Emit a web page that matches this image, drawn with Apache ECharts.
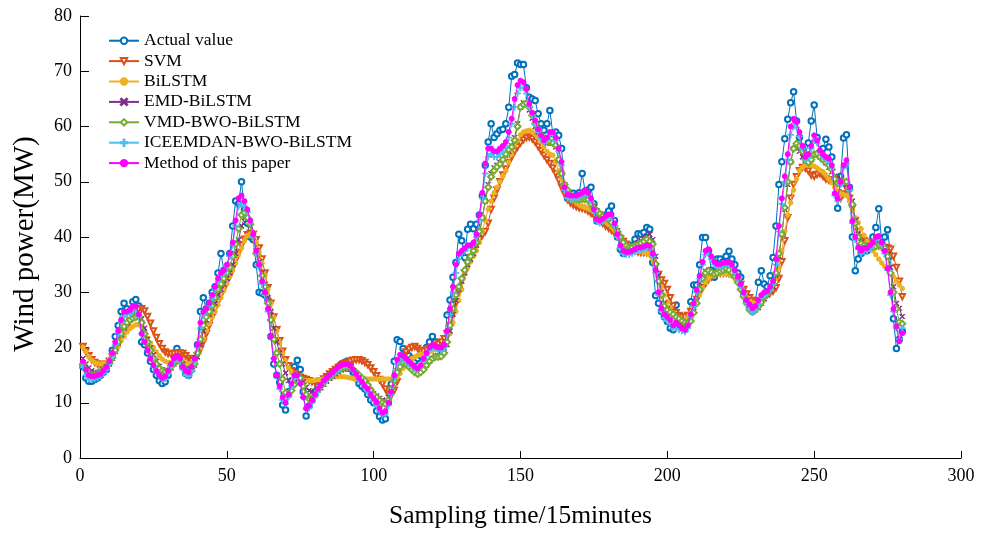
<!DOCTYPE html>
<html>
<head>
<meta charset="utf-8">
<script src="https://cdn.jsdelivr.net/npm/echarts@6/dist/echarts.min.js"></script>
<style>
html,body{margin:0;padding:0;background:#fff;}
#chart{width:989px;height:534px;}
</style>
</head>
<body>
<div id="chart"></div>
<script>
// Wind power forecasts over 280 sampling steps (15 min each), in MW
const seriesNames = ['Actual value', 'SVM', 'BiLSTM', 'EMD-BiLSTM', 'VMD-BWO-BiLSTM', 'ICEEMDAN-BWO-BiLSTM', 'Method of this paper'];
const xTicks = [0, 50, 100, 150, 200, 250, 300];
const yTicks = [0, 10, 20, 30, 40, 50, 60, 70, 80];

const actual = [
16.5, 14.5, 13.9, 13.9, 14.2, 14.5, 15, 15.5, 16, 17.5,
19.5, 22, 24, 26.5, 28, 27, 26.5, 28.3, 28.7, 27.5,
21, 20.5, 19, 17.5, 16, 15, 14, 13.5, 13.8, 15,
17, 18.8, 19.8, 18.5, 16.5, 15.3, 15, 16.5, 18, 20.5,
26.5, 29, 27, 28, 30, 31, 33.5, 37, 34, 33.5,
37, 42, 46.5, 46, 50, 45, 42.5, 40, 39.5, 35,
30, 29.8, 29.5, 28.6, 22, 17, 15, 13.7, 9.6, 8.7,
12, 14, 16.5, 17.7, 16, 12, 7.6, 9.4, 10.5, 12,
13, 13.5, 14, 14.5, 15, 15.5, 16, 16.5, 17, 17.3,
17.5, 17, 15.5, 14.5, 13.5, 13, 12.5, 11.5, 10.5, 10,
8.5, 7.5, 6.9, 7.1, 10, 13.4, 17.5, 21.4, 21.1, 19.8,
19, 18.5, 18, 17.5, 18, 18.5, 19, 20, 21, 22,
21, 20, 19.5, 20.5, 25.9, 28.6, 32.7, 35.4, 40.5, 39.3,
36.3, 41.4, 42.3, 41.5, 42.3, 44, 47.4, 53, 57.2, 60.5,
58, 58.7, 59.3, 59.5, 60.5, 63.5, 69.1, 69.4, 71.5, 71.2,
71.2, 67, 65.3, 65, 64.7, 62.3, 60.5, 59.3, 60.5, 62.9,
58.7, 59, 58.4, 56, 48.6, 47, 47.5, 47.9, 47.5, 48,
51.5, 48.3, 48.5, 49, 46, 42.9, 43, 43.5, 44, 44.7,
45.6, 43, 40, 37.8, 37, 37.5, 38, 38.5, 39.6, 40.6,
40.5, 40.8, 41.7, 41.4, 35.4, 29.4, 28, 26.5, 25.5, 24.7,
23.5, 23.2, 27.7, 25.5, 24.5, 23.5, 25.5, 28.3, 31.3, 31.3,
35, 39.9, 39.9, 37.5, 34, 32.7, 36, 36, 35.5, 36.5,
37.4, 36, 35, 33.5, 32.7, 29.8, 28.5, 27.1, 26.5, 28.5,
31.8, 33.9, 31.5, 31, 33, 36.3, 42, 49.5, 53.6, 57.8,
61.3, 64.3, 66.3, 61, 58, 56, 54.8, 57, 61, 63.9,
58, 55.1, 56, 57.7, 56.3, 54.5, 50, 45.2, 51, 57.9,
58.5, 49, 40, 33.9, 36, 37, 38, 37.5, 38.5, 40,
41.7, 45.1, 39, 40, 41.3, 36.6, 25.2, 19.8, 21.5, 22.9
];

const svm = [
20.2, 19.3, 18.5, 17.8, 17.3, 17, 16.8, 16.8, 17, 17.5,
18.3, 19.3, 20.5, 21.7, 22.8, 23.8, 24.8, 25.7, 26.4, 26.9,
27, 26.6, 25.6, 24.4, 23, 21.8, 20.7, 19.8, 19.2, 18.9,
18.8, 18.9, 19, 19, 18.9, 18.5, 18, 17.6, 17.8, 18.5,
19.7, 21, 22.5, 24, 25.5, 27, 28.3, 29.5, 30.6, 31.8,
33, 34.4, 35.8, 37.2, 38.5, 39.6, 40.4, 40.7, 40.5, 39.5,
38, 36, 33.5, 30.8, 28, 25.5, 23.2, 21.2, 19.3, 17.8,
16.7, 15.8, 15.2, 14.8, 14.6, 14.4, 14.2, 14, 13.8, 13.7,
13.8, 14, 14.3, 14.7, 15.2, 15.6, 16, 16.4, 16.7, 17,
17.2, 17.5, 17.7, 17.8, 17.8, 17.6, 17.3, 16.9, 16.3, 15.6,
14.9, 14.2, 13.4, 12.5, 11.6, 11.3, 12.2, 13.8, 16, 18,
19.2, 19.7, 20, 20.2, 19.8, 19.4, 19.3, 19.5, 19.8, 20,
20.3, 20.6, 21, 21.6, 22.5, 24, 26, 28, 30, 32,
33.5, 35, 36.3, 37.5, 38.5, 39.5, 40.3, 41, 42.5, 45,
47, 48.5, 50, 51.2, 52.3, 53.5, 54.5, 55.5, 56.3, 57,
57.6, 58, 58.1, 57.8, 57.2, 56.4, 55.6, 54.8, 54, 53.3,
52.5, 51.5, 50.3, 49, 47.8, 46.8, 46.2, 45.8, 45.5, 45.3,
45.2, 45, 44.7, 44.3, 43.9, 43.5, 43, 42.5, 42, 41.6,
41.2, 40.7, 40.2, 39.7, 39.2, 38.7, 38.2, 37.8, 37.5, 37.3,
37.2, 37.2, 37.2, 37, 36, 34.6, 33.2, 32.2, 31.6, 30.5,
29, 27.5, 26.3, 25.8, 25.5, 25.5, 25.8, 26.5, 27.5, 28.7,
29.8, 30.8, 31.6, 32.3, 32.8, 33.2, 33.4, 33.5, 33.5, 33.5,
33.4, 33.2, 32.8, 32.2, 31.4, 30.5, 29.7, 29, 28.5, 28.2,
28, 28.5, 29.2, 29.6, 29.9, 30.2, 30.8, 32.5, 35.5, 39.3,
43.5, 47, 49.5, 50.9, 52, 52.6, 52.5, 52, 51.2, 51,
51.3, 51.5, 51, 50.5, 50.3, 50.3, 49.5, 48, 47, 47.8,
48.8, 47, 45.2, 43, 41, 39.9, 39.3, 39, 39, 38.8,
38.6, 38.4, 38.2, 38.1, 38, 37.8, 36.5, 34.5, 32, 29.2
];

const bilstm = [
20, 19.2, 18.3, 17.7, 17.3, 17.1, 17, 17.1, 17.3, 17.8,
18.5, 19.3, 20.2, 21.2, 22, 22.8, 23.4, 23.8, 24.1, 24.1,
23.7, 22.8, 21.7, 20.8, 20, 19.2, 18.5, 17.9, 17.5, 17.3,
17.3, 17.5, 17.8, 17.9, 17.6, 17.2, 17, 17.2, 17.8, 18.8,
20, 21.5, 23, 24.3, 25.5, 26.5, 27.7, 29, 30.3, 31.5,
32.8, 34, 35.3, 36.8, 38, 39.3, 40.2, 40.5, 40.2, 39,
37.3, 35.3, 33, 30.5, 28, 25.5, 23, 20.8, 19, 17.5,
16.3, 15.5, 14.9, 14.5, 14.2, 14, 14, 14, 14, 14.1,
14.2, 14.2, 14.3, 14.4, 14.5, 14.6, 14.7, 14.7, 14.7, 14.7,
14.6, 14.5, 14.4, 14.3, 14.3, 14.3, 14.3, 14.3, 14.3, 14.3,
14.3, 14.3, 14.3, 14.3, 14.3, 14.3, 14.3, 14.6, 15.3, 16.2,
17, 17.6, 18, 18.3, 18.6, 18.8, 18.9, 19, 19.2, 19.5,
19.6, 19.8, 20, 20.3, 21, 22.5, 24.5, 26.5, 28.5, 30.5,
33.5, 34.5, 35.5, 36.5, 37.5, 39, 41, 43, 45, 46.5,
48, 49, 50, 51, 52, 53.5, 55, 56.5, 57.5, 58.5,
59, 59.2, 59.3, 59, 58.6, 58, 57.2, 56.3, 55.5, 55,
54.8, 53.5, 52, 50.5, 49, 48, 47.2, 46.6, 46.2, 45.8,
45.5, 45.3, 45.1, 44.9, 44.6, 44.2, 43.8, 43.3, 42.8, 42.3,
41.8, 41.2, 40.5, 39.7, 39, 38.4, 38, 37.7, 37.5, 37.4,
37.3, 37.2, 37.1, 36.8, 36, 34.5, 32.8, 31, 29.5, 28.3,
27.2, 26.3, 25.6, 25.1, 24.9, 25, 25.4, 26.2, 27.2, 28.3,
29.5, 30.8, 31.8, 32.5, 33, 33.2, 33.3, 33.4, 33.4, 33.3,
33.2, 33, 32.5, 31.8, 30.8, 29.8, 29, 28.4, 28.1, 28,
28.1, 28.4, 28.9, 29.5, 30.2, 31, 32.5, 34.5, 37.5, 41,
44, 46.2, 48.5, 50.5, 52, 52.6, 53, 53, 53, 52.8,
52.5, 52.1, 51.8, 51.2, 50.5, 49.8, 49, 48.3, 47.9, 47.7,
47.5, 46.5, 45, 43.5, 42.6, 41.5, 40.3, 39.2, 38.2, 37.5,
36.8, 36, 35.3, 34.7, 34.2, 33.5, 32.8, 32, 31.3, 30.7
];

const emdBilstm = [
18, 17, 16.3, 15.8, 15.5, 15.5, 15.7, 16, 16.5, 17,
18, 19.3, 20.8, 22.3, 23.5, 24.5, 25, 25.3, 25.5, 25.6,
25.2, 23.5, 21.5, 20, 18.7, 17.5, 16.6, 16, 15.7, 15.8,
16.3, 17, 17.5, 17.5, 17, 16.2, 15.8, 16, 16.8, 18.3,
20.5, 23, 25, 26, 27, 28, 29.5, 30.5, 31.5, 32.5,
33.5, 35, 37, 39.5, 42, 43.5, 43, 42, 40, 37.5,
35.5, 33.5, 31.5, 29, 26.5, 23.5, 21, 19, 17, 15.4,
14, 13.2, 13.5, 14.3, 14.5, 13.8, 12.8, 12.2, 12, 11.9,
12.2, 12.7, 13.3, 13.9, 14.4, 14.8, 15.2, 15.6, 15.9, 16.1,
16.1, 16, 15.7, 15.3, 14.8, 14.3, 13.7, 13, 12.3, 11.6,
11.2, 10.8, 10.5, 10.4, 11, 12.5, 14.2, 15.8, 16.8, 17.3,
17.2, 16.8, 16.3, 15.9, 15.6, 15.7, 16.2, 16.8, 17.5, 18,
18.5, 18.5, 18.6, 19.2, 20.5, 23, 26, 28.5, 30.5, 32,
33.5, 35, 36, 37, 38.5, 40.5, 43.5, 46.5, 49.5, 51.5,
52.5, 53, 53.5, 54, 54.8, 55.5, 56.5, 58, 60.5, 63.5,
64.3, 64, 63, 61.5, 60, 59, 58.2, 57.5, 57, 57,
57, 56.3, 54, 51.5, 49.5, 48.3, 47.5, 47.2, 47, 47,
47, 47.2, 47.4, 46.5, 45.5, 44.8, 44.2, 43.7, 43.4, 43.3,
43, 42.2, 41.2, 40, 39, 38.3, 38, 38.1, 38.5, 39,
39.4, 39.8, 40.2, 40.5, 39.5, 36.5, 33, 30, 28, 27,
26.2, 25.6, 25, 24.6, 24.2, 24, 24.3, 25, 26.5, 28.5,
31, 33, 33.8, 34, 33.7, 33.4, 33.6, 34, 34.4, 34.6,
34.5, 34, 33.3, 32.3, 31, 29.8, 28.5, 27.4, 26.9, 26.8,
27.2, 28, 28.8, 29.5, 30.2, 31, 33, 36.5, 40.5, 45,
49.5, 53.6, 56, 56.2, 55.5, 54.5, 53.8, 53.6, 54, 54.8,
55, 54.5, 54, 53.4, 52.6, 51.8, 51, 50.7, 50.5, 50,
49.5, 48.8, 46.5, 43, 40.5, 39, 38.5, 38.3, 38.3, 38.5,
38.8, 39, 38.8, 38.2, 37, 34.5, 31, 28, 27.1, 25.6
];

const vmdBwoBilstm = [
17, 16, 15.2, 15, 15, 15.2, 15.5, 16, 16.5, 17.2,
18.2, 19.5, 21, 22.5, 23.8, 24.5, 25, 25.3, 25.5, 25.6,
24.5, 22.5, 21, 19.5, 18, 17, 16.2, 15.8, 15.6, 15.8,
16.5, 17.2, 17.6, 17.5, 16.5, 15.6, 15.4, 15.8, 17, 19,
21.5, 24, 25.5, 26.5, 27.5, 29, 30.5, 31.5, 32.5, 33.5,
34.5, 36.5, 38.7, 41.5, 44, 44.4, 43.5, 42.3, 40, 37,
35, 33, 31, 28, 25, 21.5, 19, 17, 14.3, 11.8,
11.3, 12.2, 13.3, 15, 14.5, 13, 11.5, 10.7, 10.8, 11.3,
12.3, 13, 13.6, 14.2, 14.7, 15.1, 15.5, 15.9, 16.2, 16.4,
16.5, 16.4, 16, 15.5, 15, 14.5, 14, 13.2, 12.3, 11.5,
11, 10.4, 10, 9.8, 10.5, 12.5, 14, 15.5, 16.5, 17.2,
17, 16.5, 16, 15.5, 15.2, 15.5, 16, 16.8, 17.5, 18,
18.3, 18.3, 18.4, 19, 21, 24, 27, 29.5, 31, 32.5,
34, 35.5, 36.5, 37.5, 39, 41, 43.5, 46.5, 49, 50.9,
52, 52.7, 53.2, 54, 55, 55.8, 56.3, 57.5, 60, 63.5,
64, 64.2, 63.5, 62, 60.5, 59.5, 58.5, 57.8, 57.5, 57.2,
57, 56.6, 54, 51.5, 49.5, 48.5, 47.5, 47, 46.8, 46.8,
46.8, 46.8, 46.8, 46, 45.3, 44.7, 44.2, 43.8, 43.5, 43.2,
42.6, 42, 41, 40, 39, 38.4, 38.2, 38.2, 38.4, 38.6,
38.9, 39.2, 39.6, 39.2, 38.7, 35.1, 32, 29.5, 27.5, 26.8,
26.4, 26, 25.5, 25.2, 24.8, 24.5, 24.4, 24.8, 26.3, 28,
30.5, 32.5, 33.5, 33.9, 33.6, 33.3, 33.5, 33.8, 34, 34.2,
34, 33.5, 32.9, 31.8, 30.5, 29.2, 28, 26.8, 26.5, 26.8,
27.4, 28.2, 29.2, 29.8, 30.5, 31.5, 33.5, 37, 40.5, 45.3,
50, 53.6, 56, 56.9, 56.5, 55.5, 54, 53.5, 54, 55,
55.1, 54.5, 54, 53.5, 53, 52.2, 50.5, 49.7, 49.7, 50,
50, 48.5, 45.9, 42.5, 40, 38.8, 38.5, 38.3, 38.2, 38.2,
38.3, 38.5, 38.5, 38, 36.5, 33.5, 30, 27, 24.6, 24.3
];

const iceemdanBwoBilstm = [
16.5, 15, 14.3, 14.2, 14.3, 14.5, 14.8, 15.3, 16, 17,
18.5, 20.5, 22.5, 24.5, 25.5, 26, 26, 26.5, 26.5, 25.5,
22.5, 21, 19.5, 18, 16.5, 15.5, 14.8, 14.2, 14.3, 15.2,
16.5, 17.5, 18, 17.5, 16, 15, 14.8, 15.8, 17.5, 20,
23.5, 26, 27, 27.5, 29, 30.5, 32, 33, 33.5, 34.5,
36.5, 38.5, 42, 45.5, 46, 45.5, 44.5, 42.5, 40, 37,
34.5, 31.5, 29.5, 26.5, 22, 18, 15, 12.5, 10.5, 9.8,
11, 13, 14.5, 14.8, 13.5, 11, 8.8, 9, 10, 11,
12, 13, 13.8, 14.2, 14.7, 15.2, 15.6, 16, 16.5, 16.8,
16.8, 16.5, 15.8, 15, 14.2, 13.5, 12.8, 12, 11.2, 10.3,
9.5, 8.5, 7.8, 8, 9.5, 11.5, 14.5, 17, 18, 18,
17.5, 17, 16.5, 16.2, 16, 16.5, 17.5, 18.5, 19.5, 20,
20, 19.5, 19.5, 20, 22.5, 26, 30, 33.5, 36, 37,
37.5, 38, 38.5, 39, 40, 43, 47, 51.5, 54.5, 55,
54.5, 54.5, 55, 55.5, 56.5, 58, 60.5, 63.5, 66, 67,
67, 66, 63.5, 62, 60.5, 59, 57.8, 57, 57.5, 58.5,
58.5, 57.5, 55.5, 53, 48.5, 47, 46.8, 46.8, 47, 47.2,
47.5, 48, 47.5, 46.5, 44.5, 42.8, 42.5, 42.8, 43.3, 43.6,
43.6, 42, 40, 38, 37, 36.8, 36.8, 37, 37.3, 37.6,
37.6, 37.8, 38, 38, 36.5, 33.5, 29.5, 26.5, 25.3, 24.8,
24.3, 23.5, 23.5, 23.2, 23, 22.8, 23.5, 25.5, 27.5, 30,
32.5, 35, 36.8, 37, 36, 35, 34.6, 34.6, 34.8, 35,
35, 34.5, 33.5, 32.3, 31, 29.5, 28, 27, 26.3, 26.8,
27.8, 29, 29.5, 29.8, 30.5, 31.5, 35, 41, 46, 50,
54, 58.5, 60, 59.8, 58.2, 56, 54, 54.3, 56, 57.5,
57, 55.2, 54.5, 54, 53.7, 52.5, 47.5, 46.5, 49.5, 52.5,
53.3, 48.5, 42.5, 39.5, 37.8, 37, 37.5, 37.5, 38, 38.5,
39.5, 39.8, 38.5, 37, 34, 29.5, 26.5, 23.5, 21.5, 23.5
];

const proposedMethod = [
17.5, 16, 15, 14.8, 14.8, 15, 15.2, 15.8, 16.5, 17.5,
19, 21, 23, 25, 26.5, 26.5, 26.8, 27.5, 27.5, 26,
22.5, 21, 19.5, 18, 16.8, 15.8, 15, 14.5, 14.8, 15.8,
17, 18, 18.5, 18, 16.5, 15.8, 15.5, 16.5, 18, 20.5,
24.5, 26.5, 27, 28, 29.5, 31, 32.5, 33.5, 34, 35,
37, 39, 43, 47, 47.5, 46.5, 45, 43, 40.5, 37.5,
35, 32, 30, 27, 22, 18, 15, 13, 11, 10,
11.5, 13.5, 15, 15, 13.5, 11, 9, 9.5, 10.5, 11.5,
12.5, 13.2, 14, 14.5, 15, 15.5, 16, 16.5, 16.8, 17,
17, 16.7, 16, 15.2, 14.5, 13.8, 13, 12.5, 11.5, 10.8,
10.1, 9, 8.2, 8.5, 10, 12, 15, 17.8, 18.7, 18.5,
18, 17.5, 17, 16.5, 16.2, 16.8, 18, 19, 20, 20.5,
20.2, 20, 20, 20.5, 23, 27, 31, 35, 37, 37.5,
38, 38.5, 38.5, 39, 40.5, 44, 48, 53.3, 56, 56,
55.5, 55.5, 56, 56.5, 57.2, 59, 61.4, 65, 67.5, 68.3,
68, 66.8, 64.1, 62.5, 61.1, 59.5, 58.4, 57.5, 58, 59,
59, 58, 56, 53.6, 49, 47.7, 47.5, 47.5, 47.5, 47.7,
48, 48.5, 48, 47, 45, 43.2, 43, 43.3, 43.8, 44.1,
44.1, 42.5, 40.5, 38.5, 37.5, 37.3, 37.3, 37.5, 37.8, 38.1,
38.1, 38.3, 38.5, 38.4, 37, 34, 30, 27.1, 26, 25.5,
25, 24, 24.5, 24, 23.5, 23.2, 24, 26, 28, 30.4,
33, 35.5, 37.5, 37.8, 36.5, 35.5, 35.1, 35.1, 35.3, 35.4,
35.5, 35, 34, 32.8, 31.5, 30, 28.6, 27.8, 27.1, 27.5,
28.5, 29.5, 30, 30.2, 31, 32, 36, 42, 47, 51,
55, 60, 61.4, 60.8, 59, 56.5, 54.5, 55, 56.5, 58.4,
57.5, 55.7, 55, 54.5, 54.2, 53, 47.9, 47, 50, 53,
53.9, 49, 42.9, 40, 38.1, 37.5, 38, 38, 38.5, 39,
40, 40.2, 39, 37.5, 34.3, 30, 27, 23.8, 21.1, 22.6
];

// Marker shapes that ECharts does not ship: a cross and a plus sign
const crossSymbol = 'path://M0,1 L1,0 L5,4 L9,0 L10,1 L6,5 L10,9 L9,10 L5,6 L1,10 L0,9 L4,5 Z';
const plusSymbol = 'path://M4.3,0 L5.7,0 L5.7,4.3 L10,4.3 L10,5.7 L5.7,5.7 L5.7,10 L4.3,10 L4.3,5.7 L0,5.7 L0,4.3 L4.3,4.3 Z';

const styles = [
  { color: '#0072BD', symbol: 'emptyCircle', size: 5.5, rotate: 0 },
  { color: '#D95319', symbol: 'emptyTriangle', size: 5.5, rotate: 180 },
  { color: '#EDB120', symbol: 'circle', size: 4.5, rotate: 0 },
  { color: '#7E2F8E', symbol: crossSymbol, size: 5, rotate: 0 },
  { color: '#77AC30', symbol: 'emptyDiamond', size: 6, rotate: 0 },
  { color: '#4DBEEE', symbol: plusSymbol, size: 6, rotate: 0 },
  { color: '#FF00FF', symbol: 'circle', size: 5, rotate: 0 }
];

const values = [actual, svm, bilstm, emdBilstm, vmdBwoBilstm, iceemdanBwoBilstm, proposedMethod];

const chart = echarts.init(document.getElementById('chart'), null, { renderer: 'canvas', width: 989, height: 534 });

const serif = 'Liberation Serif, Times New Roman, serif';

chart.setOption({
  animation: false,
  backgroundColor: '#ffffff',
  grid: { left: 80, top: 16, width: 881, height: 449, containLabel: false },
  legend: {
    left: 108, top: 30.5, orient: 'vertical', padding: 0,
    itemWidth: 30, itemHeight: 8, itemGap: 0,
    textStyle: { fontFamily: serif, fontSize: 17.5, color: '#000', lineHeight: 20.4 },
    data: seriesNames
  },
  xAxis: {
    type: 'value', min: 0, max: 300, interval: 50,
    name: 'Sampling time/15minutes', nameLocation: 'middle', nameGap: 45,
    nameTextStyle: { fontFamily: serif, fontSize: 25.5, color: '#000' },
    axisLine: { show: true, lineStyle: { color: '#000', width: 1 } },
    axisTick: { show: true, inside: true, length: 7, lineStyle: { color: '#000' } },
    axisLabel: { fontFamily: serif, fontSize: 18, color: '#000', margin: 9,
      formatter: v => xTicks.includes(v) ? String(v) : '' },
    splitLine: { show: false }
  },
  yAxis: {
    type: 'value', min: 0, max: 80, interval: 10,
    name: 'Wind power(MW)', nameLocation: 'middle', nameGap: 40,
    nameTextStyle: { fontFamily: serif, fontSize: 29, color: '#000', padding: [0, 14, 0, 0] },
    axisLine: { show: true, lineStyle: { color: '#000', width: 1 } },
    axisTick: { show: true, inside: true, length: 9, lineStyle: { color: '#000' } },
    axisLabel: { fontFamily: serif, fontSize: 18, color: '#000', margin: 8,
      formatter: v => yTicks.includes(v) ? String(v) : '' },
    splitLine: { show: false }
  },
  series: values.map((arr, k) => ({
    name: seriesNames[k],
    type: 'line',
    data: arr.map((v, i) => [i + 1, v]),
    symbol: styles[k].symbol,
    symbolSize: styles[k].size,
    symbolRotate: styles[k].rotate,
    showAllSymbol: true,
    lineStyle: { color: styles[k].color, width: 1 },
    itemStyle: { color: styles[k].color, borderColor: styles[k].color, borderWidth: 1 },
    emphasis: { disabled: true },
    z: 2 + k
  }))
});
</script>
</body>
</html>
